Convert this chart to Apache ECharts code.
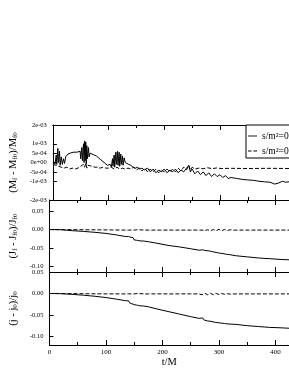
<!DOCTYPE html>
<html><head><meta charset="utf-8">
<script src="https://cdn.jsdelivr.net/npm/echarts@6/dist/echarts.min.js"></script>
<style>html,body{margin:0;padding:0;background:#fff}#c{width:289px;height:374px}</style>
</head><body><div id="c"></div>
<script>
// ---- tick labels / categories ----
const xMajor = [0, 100, 200, 300, 400];
const xMinor = [50, 150, 250, 350];
const legendNames = ['s/m\u00b2=0.0', 's/m\u00b2=0.5'];
const mTicks = [2e-3, 1e-3, 5e-4, 0, -5e-4, -1e-3, -2e-3];
const mTickLabels = ['2e-03', '1e-03', '5e-04', '0e+00', '-5e-04', '-1e-03', '-2e-03'];
const jTicks = [0.05, 0, -0.05, -0.10];
const jTickLabels = ['0.05', '0.00', '-0.05', '-0.10'];

// ---- top panel: (Mf - Mf0)/Mf0, values in units of 1e-4 ----
const tMs = [0,2,4,6,7,9,10,12,13,15,17,19,21,23,25,27,29,31,34,37,40,43,46,49,50,52,53,55,56,57,58,59,60,61,62,64,65,67,70,74,78,82,86,90,94,98,101,103,105,107,108,110,111,113,114,116,117,119,120,122,123,125,126,128,130,133,136,140,144,148,152,156,160,164,165,170,175,180,185,190,195,200,205,210,215,220,225,230,235,240,244,247,250,255,260,265,270,275,280,285,290,295,300,305,310,315,320,330,340,350,360,370,380,390,398,405,412,418,424];
const vMs = [0,1,-1,4,-1,7.5,0,6,-1.5,3,-1,2,-0.5,3,2,4.5,3.5,5,4.5,5.5,5,5.5,4.5,6,2,8,1,10,0,11.5,1,11,-1,9,2,8,3,5,4.5,4,3.5,2.5,1.5,0.5,-0.5,-1.5,-2,-1,-2.5,2,-2,4,-2.5,5.5,-1,6,-1.5,5.5,-2,4.5,-1,3.5,-1.5,2.5,0,1,-1,-1.5,-2.5,-3,-2.5,-3.5,-3,-4,-4,-3,-5,-3.5,-5.5,-4,-5,-3.5,-5.5,-4,-5,-3.5,-5.5,-4,-5,-3,-1.5,-5,-3.5,-6,-4.5,-6.5,-5,-7,-5.5,-7.5,-6,-7.5,-6.5,-8,-7,-8.5,-8,-8.5,-9,-9.3,-9.5,-10,-10.3,-10.5,-11.5,-11,-10,-10.5,-10.3];
const tMd = [0,5,10,15,20,25,30,35,40,45,50,53,55,57,59,61,63,66,70,75,80,85,90,95,100,105,110,115,120,125,130,135,140,145,150,155,160,165,170,175,180,185,190,195,200,205,210,215,220,225,230,235,240,244,247,250,255,262,270,278,286,294,302,320,350,390,424];
const vMd = [-1,-1.5,-2,-2.5,-3,-2.5,-3.5,-3,-3.5,-3,-2,-3,-1,-2.5,-0.5,-3,-1.5,-2.5,-2,-2.5,-2.5,-3,-2.5,-3,-3,-2.5,-3.5,-2.5,-3.5,-3,-3.5,-3,-3.5,-2.5,-4,-3,-4.5,-3,-5,-3.5,-5,-3.5,-5.5,-4,-5,-3.5,-5,-3.5,-5,-3,-4.5,-2.5,-4,-1.5,-4,-2.5,-3.5,-3,-3.3,-2.8,-3.3,-2.9,-3.2,-3.1,-3.2,-3.1,-3.2];

// ---- middle panel: (Jf - Jf0)/Jf0 ----
const tJs = [0,20,40,60,80,100,120,135,138,140,142,144,146,148,150,152,154,156,158,160,162,164,166,168,175,190,210,230,250,265,268,271,274,277,280,283,286,289,292,295,298,301,304,307,310,313,316,319,330,350,370,390,410,424];
const vJs = [0,-0.0005,-0.003,-0.005,-0.0075,-0.0105,-0.015,-0.019,-0.0205,-0.019,-0.024,-0.021,-0.026,-0.022,-0.028,-0.024,-0.029,-0.026,-0.030,-0.027,-0.031,-0.029,-0.031,-0.031,-0.033,-0.037,-0.043,-0.047,-0.052,-0.056,-0.057,-0.055,-0.060,-0.057,-0.062,-0.058,-0.063,-0.060,-0.065,-0.062,-0.066,-0.064,-0.067,-0.065,-0.068,-0.067,-0.069,-0.068,-0.071,-0.074,-0.077,-0.079,-0.081,-0.082];
const tJd = [0,50,100,140,150,153,156,159,162,165,168,175,200,250,270,275,280,285,290,295,300,305,310,315,320,325,330,360,400,424];
const vJd = [0,-0.0005,-0.001,-0.0015,-0.0015,-0.003,-0.0005,-0.003,-0.001,-0.0025,-0.0015,-0.0015,-0.0015,-0.0015,-0.0015,-0.003,-0.0005,-0.0035,0.0,-0.003,0.0005,-0.003,0.0,-0.0025,-0.0005,-0.002,-0.0015,-0.0015,-0.0015,-0.0015];

// ---- bottom panel: (j - j0)/j0 ----
const tjs = [0,20,40,60,80,100,120,135,138,140,142,144,146,148,150,152,154,156,158,160,162,164,166,168,175,190,210,230,250,265,268,271,274,277,280,283,286,289,292,295,298,301,304,307,310,313,316,319,330,350,370,390,410,424];
const vjs = [0,-0.0005,-0.002,-0.004,-0.0065,-0.0095,-0.0135,-0.017,-0.019,-0.017,-0.022,-0.019,-0.024,-0.020,-0.026,-0.022,-0.027,-0.024,-0.028,-0.025,-0.029,-0.027,-0.029,-0.029,-0.031,-0.036,-0.042,-0.048,-0.054,-0.058,-0.059,-0.057,-0.062,-0.059,-0.064,-0.060,-0.065,-0.062,-0.067,-0.064,-0.068,-0.066,-0.069,-0.067,-0.070,-0.069,-0.071,-0.070,-0.072,-0.075,-0.077,-0.079,-0.080,-0.081];
const tjd = [0,50,100,140,150,153,156,159,162,165,168,175,200,250,265,270,275,280,285,290,295,300,305,310,315,320,330,360,400,424];
const vjd = [0,-0.0005,-0.001,-0.001,-0.001,-0.0025,0,-0.0025,-0.0005,-0.002,-0.001,-0.001,-0.001,-0.001,-0.001,-0.003,0.0005,-0.003,0.0005,-0.003,0,-0.0025,0,-0.002,-0.0005,-0.0015,-0.001,-0.001,-0.001,-0.001];

const FONT = 'Liberation Serif';
const zip = (t, v, s) => t.map((x, i) => [x, v[i] * (s || 1)]);

const grids = [
  {left: 43, right: 0, top: 125, height: 75},
  {left: 43, right: 0, top: 200, height: 72},
  {left: 43, right: 0, top: 272, height: 73}
];

const xAxes = [];
for (let g = 0; g < 3; g++) {
  ['bottom', 'top'].forEach(pos => {
    [[xMajor, 5], [xMinor, 3]].forEach(([vals, len], k) => {
      const showLabel = (g === 2 && pos === 'bottom' && k === 0);
      xAxes.push({
        gridIndex: g, type: 'value', position: pos, min: 0, max: 424,
        axisLine: {show: true, onZero: false, lineStyle: {color: '#000', width: 1}},
        axisTick: {show: true, inside: true, length: len, customValues: vals, lineStyle: {color: '#000', width: 1}},
        axisLabel: {show: showLabel, customValues: xMajor, margin: 4, color: '#000', fontFamily: FONT, fontSize: 7},
        splitLine: {show: false},
        name: showLabel ? 't/M' : '', nameLocation: 'middle', nameGap: 11,
        nameTextStyle: {color: '#000', fontFamily: FONT, fontSize: 10.5}
      });
    });
  });
}
const xIdx = g => g * 4;

const rich = {s: {fontSize: 7, fontFamily: FONT, color: '#000', verticalAlign: 'bottom', padding: [3, 0, 0, 0]}};
const fmt = (ticks, labels) => v => {
  const i = ticks.findIndex(t => Math.abs(t - v) < 1e-9);
  return i >= 0 ? labels[i] : '';
};
const yCommon = (g, min, max, ticks, labels, name) => ({
  gridIndex: g, type: 'value', min: min, max: max,
  axisLine: {show: true, onZero: false, lineStyle: {color: '#000', width: 1}},
  axisTick: {show: true, inside: true, length: 4, customValues: ticks, lineStyle: {color: '#000'}},
  axisLabel: {customValues: ticks, formatter: fmt(ticks, labels), margin: 6, color: '#000', fontFamily: FONT, fontSize: 6.5},
  splitLine: {show: false},
  name: name, nameLocation: 'middle', nameRotate: 90, nameGap: 28,
  nameTextStyle: {color: '#000', fontFamily: FONT, fontSize: 10.5, rich: rich}
});
const yAxes = [
  yCommon(0, -2e-3, 2e-3, mTicks, mTickLabels, '(M{s|f} - M{s|f0})/M{s|f0}'),
  yCommon(1, -0.115, 0.08, jTicks, jTickLabels, '(J{s|f} - J{s|f0})/J{s|f0}'),
  yCommon(2, -0.12, 0.05, jTicks, jTickLabels, '(j - j{s|0})/j{s|0}')
];

const mk = (g, name, data, dashed) => ({
  type: 'line', name: name, xAxisIndex: xIdx(g), yAxisIndex: g, data: data,
  symbol: 'none', showSymbol: false, animation: false, clip: true,
  lineStyle: {color: '#000', width: 1, type: dashed ? [4, 2] : 'solid'},
  itemStyle: {color: '#000'}
});

const series = [
  mk(0, legendNames[0], zip(tMs, vMs, 1e-4), false),
  mk(0, legendNames[1], zip(tMd, vMd, 1e-4), true),
  mk(1, legendNames[0], zip(tJs, vJs), false),
  mk(1, legendNames[1], zip(tJd, vJd), true),
  mk(2, legendNames[0], zip(tjs, vjs), false),
  mk(2, legendNames[1], zip(tjd, vjd), true)
];

const chart = echarts.init(document.getElementById('c'), null, {renderer: 'canvas'});
chart.setOption({
  backgroundColor: '#fff',
  animation: false,
  grid: grids,
  xAxis: xAxes,
  yAxis: yAxes,
  legend: {
    data: [
      {name: legendNames[0], icon: 'path://M0,0M10,10M0,4.5h10v1h-10z'},
      {name: legendNames[1], icon: 'path://M0,0M10,10M0,4.5h4v1h-4zM6,4.5h4v1h-4z'}
    ],
    orient: 'vertical', left: 246, top: 125,
    itemWidth: 9, itemHeight: 10, itemGap: 5, padding: [6, 40, 2, 2],
    borderColor: '#000', borderWidth: 1, backgroundColor: '#fff',
    selectedMode: false,
    textStyle: {color: '#000', fontFamily: FONT, fontSize: 9.5}
  },
  series: series
});
</script></body></html>
